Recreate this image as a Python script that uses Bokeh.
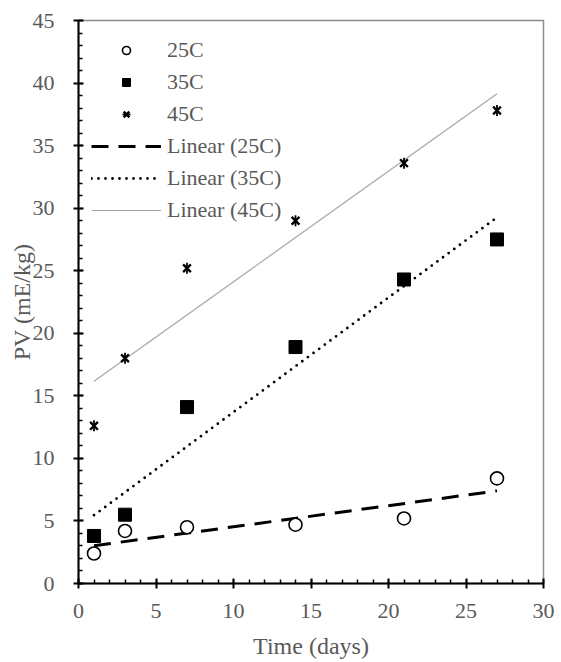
import numpy as np
from bokeh.plotting import figure
from bokeh.models import Legend, LegendItem, FixedTicker
from bokeh.embed import file_html
from bokeh.resources import INLINE

days = [1, 3, 7, 14, 21, 27]
pv_25c = [2.4, 4.2, 4.5, 4.7, 5.2, 8.4]
pv_35c = [3.8, 5.5, 14.1, 18.9, 24.3, 27.5]
pv_45c = [12.6, 18.0, 25.2, 29.0, 33.6, 37.8]
x_ticks = [0, 5, 10, 15, 20, 25, 30]
y_ticks = [0, 5, 10, 15, 20, 25, 30, 35, 40, 45]

FONT = "Liberation Serif"
TXT = "#595959"

p = figure(frame_width=465, frame_height=563, x_range=(0, 30), y_range=(0, 45),
           output_backend="svg", toolbar_location=None,
           min_border_left=78, min_border_right=12, min_border_top=20, min_border_bottom=78)
p.grid.visible = False
p.outline_line_color = "#8c8c8c"
p.outline_line_width = 1.5
p.background_fill_color = "white"
p.border_fill_color = "white"

def fit_line(ys):
    xs = np.array(days, dtype=float)
    m, b = np.polyfit(xs, np.array(ys, dtype=float), 1)
    return [days[0], days[-1]], [m * days[0] + b, m * days[-1] + b]

fx, fy = fit_line(pv_25c)
l25 = p.line(fx, fy, line_color="black", line_width=3, line_dash="17 10")
fx, fy = fit_line(pv_35c)
l35 = p.line(fx, fy, line_color="black", line_width=2.8, line_dash="0 7", line_cap="round")
fx, fy = fit_line(pv_45c)
l45 = p.line(fx, fy, line_color="#a6a6a6", line_width=1.2)

r25 = p.scatter(days, pv_25c, marker="circle", size=13, fill_color="white",
                line_color="black", line_width=1.6)
r35 = p.scatter(days, pv_35c, marker="square", size=13, fill_color="black",
                line_color="black")
r45a = p.scatter(days, pv_45c, marker="x", size=11, line_color="black", line_width=2.4)
r45b = p.scatter(days, pv_45c, marker="dash", size=11, angle=np.pi / 2,
                 line_color="black", line_width=1.8)

for ax in (p.xaxis[0], p.yaxis[0]):
    ax.axis_line_color = "black"
    ax.axis_line_width = 2
    ax.major_tick_line_color = "black"
    ax.major_tick_line_width = 2
    ax.minor_tick_line_color = "black"
    ax.minor_tick_line_width = 1.5
    ax.major_tick_in = 5
    ax.major_tick_out = 5
    ax.minor_tick_in = 4
    ax.minor_tick_out = 0
    ax.major_label_text_font = FONT
    ax.major_label_text_font_size = "22px"
    ax.major_label_text_color = TXT
    ax.axis_label_text_font = FONT
    ax.axis_label_text_font_size = "24px"
    ax.axis_label_text_font_style = "normal"
    ax.axis_label_text_color = TXT

p.xaxis[0].ticker = FixedTicker(ticks=x_ticks, minor_ticks=list(range(0, 31)))
p.yaxis[0].ticker = FixedTicker(ticks=y_ticks, minor_ticks=list(range(0, 46)))
p.xaxis[0].axis_label = "Time (days)"
p.yaxis[0].axis_label = "PV (mE/kg)"
p.xaxis[0].major_label_standoff = 15
p.yaxis[0].major_label_standoff = 19
p.xaxis[0].axis_label_standoff = 12
p.yaxis[0].axis_label_standoff = -5

legend = Legend(items=[
    LegendItem(label="25C", renderers=[r25]),
    LegendItem(label="35C", renderers=[r35]),
    LegendItem(label="45C", renderers=[r45a, r45b]),
    LegendItem(label="Linear (25C)", renderers=[l25]),
    LegendItem(label="Linear (35C)", renderers=[l35]),
    LegendItem(label="Linear (45C)", renderers=[l45]),
], location=(13, 360))
legend.padding = 0
legend.margin = 0
legend.spacing = 6
legend.glyph_width = 70
legend.glyph_height = 20
legend.label_height = 20
legend.label_standoff = 6
legend.label_text_font = FONT
legend.label_text_font_size = "22px"
legend.label_text_color = TXT
legend.border_line_color = None
legend.background_fill_alpha = 0
p.add_layout(legend, "center")

open("out.html", "w").write(file_html(p, INLINE))
